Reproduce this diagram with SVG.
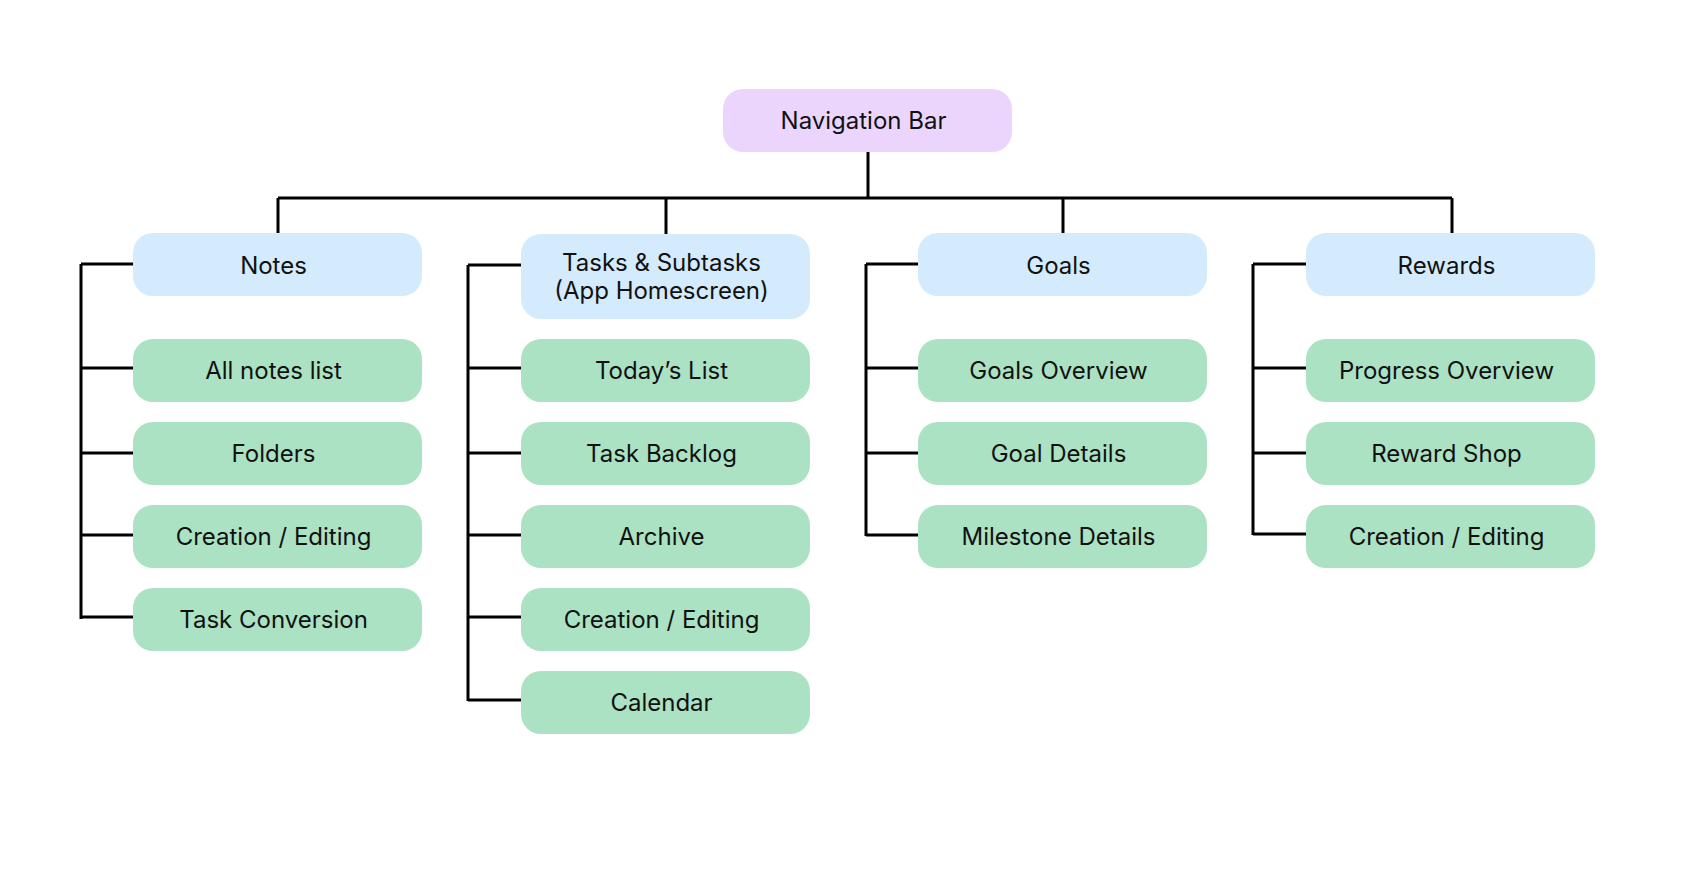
<svg xmlns="http://www.w3.org/2000/svg" width="1692" height="869" viewBox="0 0 1692 869">
<style>
.nav{fill:#EBD5FD}
.sec{fill:#D4EAFD}
.leaf{fill:#ACE2C4}
text{font-family:Inter,"Noto Sans","Liberation Sans",sans-serif;font-size:24px;fill:#111;text-anchor:middle}
.c{fill:none;stroke:#000;stroke-width:3}
</style>
<rect width="1692" height="869" fill="#fff"/>
<g id="connectors">
<path class="c" d="M868 152V198M278 198H1452M278 198V233M666 198V234M1063 198V233M1452 198V233"/>
<path class="c" d="M81 264V619M81 264H133M81 368H133M81 453H133M81 535H133M81 617H133"/>
<path class="c" d="M468 265V701M468 265H521M468 368H521M468 453H521M468 535H521M468 617H521M468 700H521"/>
<path class="c" d="M866 264V536M866 264H918M866 368H918M866 453H918M866 535H918"/>
<path class="c" d="M1253 264V535M1253 264H1306M1253 368H1306M1253 453H1306M1253 534H1306"/>
</g>
<g id="nav"><rect class="nav" x="723" y="89" width="289" height="63" rx="20"/><text x="863.5" y="129">Navigation Bar</text></g>
<g id="notes"><rect class="sec" x="133" y="233" width="289" height="63" rx="20"/><text x="273.5" y="273.5">Notes</text></g>
<g id="tasks"><rect class="sec" x="521" y="234" width="289" height="85" rx="20"/><text x="661.5" y="271">Tasks &amp; Subtasks</text><text x="661.5" y="299">(App Homescreen)</text></g>
<g id="goals"><rect class="sec" x="918" y="233" width="289" height="63" rx="20"/><text x="1058.5" y="273.5">Goals</text></g>
<g id="rewards"><rect class="sec" x="1306" y="233" width="289" height="63" rx="20"/><text x="1446.5" y="273.5">Rewards</text></g>
<g id="notes-all"><rect class="leaf" x="133" y="339" width="289" height="63" rx="20"/><text x="273.5" y="379">All notes list</text></g>
<g id="notes-folders"><rect class="leaf" x="133" y="422" width="289" height="63" rx="20"/><text x="273.5" y="462">Folders</text></g>
<g id="notes-creation"><rect class="leaf" x="133" y="505" width="289" height="63" rx="20"/><text x="273.5" y="545">Creation / Editing</text></g>
<g id="notes-conversion"><rect class="leaf" x="133" y="588" width="289" height="63" rx="20"/><text x="273.5" y="628">Task Conversion</text></g>
<g id="tasks-today"><rect class="leaf" x="521" y="339" width="289" height="63" rx="20"/><text x="661.5" y="379">Today’s List</text></g>
<g id="tasks-backlog"><rect class="leaf" x="521" y="422" width="289" height="63" rx="20"/><text x="661.5" y="462">Task Backlog</text></g>
<g id="tasks-archive"><rect class="leaf" x="521" y="505" width="289" height="63" rx="20"/><text x="661.5" y="545">Archive</text></g>
<g id="tasks-creation"><rect class="leaf" x="521" y="588" width="289" height="63" rx="20"/><text x="661.5" y="628">Creation / Editing</text></g>
<g id="tasks-calendar"><rect class="leaf" x="521" y="671" width="289" height="63" rx="20"/><text x="661.5" y="711">Calendar</text></g>
<g id="goals-overview"><rect class="leaf" x="918" y="339" width="289" height="63" rx="20"/><text x="1058.5" y="379">Goals Overview</text></g>
<g id="goals-details"><rect class="leaf" x="918" y="422" width="289" height="63" rx="20"/><text x="1058.5" y="462">Goal Details</text></g>
<g id="goals-milestone"><rect class="leaf" x="918" y="505" width="289" height="63" rx="20"/><text x="1058.5" y="545">Milestone Details</text></g>
<g id="rewards-progress"><rect class="leaf" x="1306" y="339" width="289" height="63" rx="20"/><text x="1446.5" y="379">Progress Overview</text></g>
<g id="rewards-shop"><rect class="leaf" x="1306" y="422" width="289" height="63" rx="20"/><text x="1446.5" y="462">Reward Shop</text></g>
<g id="rewards-creation"><rect class="leaf" x="1306" y="505" width="289" height="63" rx="20"/><text x="1446.5" y="545">Creation / Editing</text></g>
</svg>
